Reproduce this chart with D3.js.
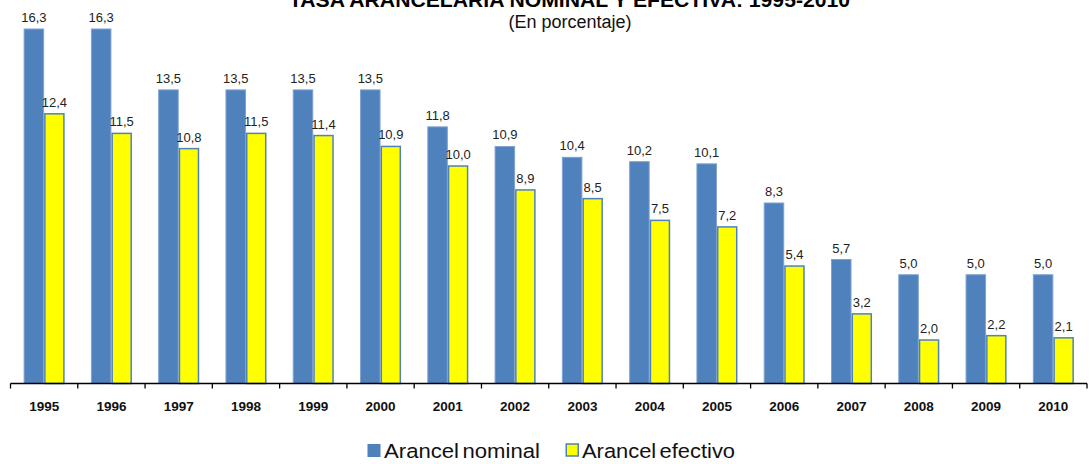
<!DOCTYPE html>
<html><head><meta charset="utf-8">
<script src="https://cdn.jsdelivr.net/npm/d3@7"></script>
<style>body{margin:0;background:#fff}svg{display:block}text{font-family:Arial,"Liberation Sans",sans-serif}</style>
</head><body>
<svg id="c" width="1090" height="464"></svg>
<script>
const years = ["1995","1996","1997","1998","1999","2000","2001","2002","2003","2004","2005","2006","2007","2008","2009","2010"];
const nominal = [16.3,16.3,13.5,13.5,13.5,13.5,11.8,10.9,10.4,10.2,10.1,8.3,5.7,5.0,5.0,5.0];
const efectivo = [12.4,11.5,10.8,11.5,11.4,10.9,10.0,8.9,8.5,7.5,7.2,5.4,3.2,2.0,2.2,2.1];
const seriesNames = ["Arancel nominal","Arancel efectivo"];
const title = "TASA ARANCELARIA NOMINAL Y EFECTIVA: 1995-2010";
const subtitle = "(En porcentaje)";

const svg = d3.select("#c");
const base = 383.5;
const pin = 0.39;
const x0 = d3.scaleBand().domain(years).range([10.5,1087]).paddingInner(pin).paddingOuter(pin/2);
const x1 = d3.scaleBand().domain([0,1]).range([0,x0.bandwidth()]);
const y = d3.scaleLinear().domain([0,16.3]).range([base,29]);
const fmt = v => d3.format(".1f")(v).replace(".",",");

const data = years.map((yr,i)=>({yr, vals:[nominal[i],efectivo[i]]}));
const fills = ["#4F81BD","#FFFF00"];
const strokes = ["#7FA3D1","#4F81BD"];
const sw = [1,1.5];

const g = svg.append("g").selectAll("g").data(data).join("g")
  .attr("transform", d=>`translate(${x0(d.yr)},0)`);
g.selectAll("rect").data(d=>d.vals.map((v,k)=>({v,k}))).join("rect")
  .attr("x", d=>x1(d.k)+ (d.k===1?0.75:0.5))
  .attr("width", d=>x1.bandwidth()-(d.k===1?1.5:1))
  .attr("y", d=>y(d.v))
  .attr("height", d=>base-y(d.v))
  .attr("fill", d=>fills[d.k]).attr("stroke", d=>strokes[d.k]).attr("stroke-width", d=>sw[d.k]);
g.selectAll("text").data(d=>d.vals.map((v,k)=>({v,k}))).join("text")
  .attr("x", d=>x1(d.k)+x1.bandwidth()/2)
  .attr("y", d=>y(d.v)-7)
  .attr("text-anchor","middle").attr("font-size","13px").attr("fill","#222")
  .text(d=>fmt(d.v));

// axis
const axis = d3.axisBottom(x0).tickSize(0).tickPadding(0);
const ax = svg.append("g").attr("transform",`translate(0,${base})`).call(axis);
ax.select(".domain").remove();
ax.selectAll("text").attr("y",27).attr("dy",null).attr("font-size","13.5px").attr("font-weight","bold")
  .attr("font-family","Arial, 'Liberation Sans', sans-serif").attr("fill","#111");
const step = x0.step();
const bounds = years.map(yr=>x0(yr)-step*pin/2).concat([x0(years[years.length-1])-step*pin/2+step]);
svg.append("line").attr("x1",bounds[0]).attr("x2",bounds[bounds.length-1]).attr("y1",base).attr("y2",base)
  .attr("stroke","#000").attr("stroke-width",1.5);
svg.selectAll(".tk").data(bounds).join("line").attr("class","tk")
  .attr("x1",d=>d).attr("x2",d=>d).attr("y1",base).attr("y2",base+5).attr("stroke","#000").attr("stroke-width",1.3);

// title
svg.append("text").attr("x",289).attr("y",7).attr("font-size","21px").attr("font-weight","bold")
  .attr("textLength",561).attr("lengthAdjust","spacingAndGlyphs").text(title);
svg.append("text").attr("x",570).attr("y",28).attr("text-anchor","middle").attr("font-size","18px").attr("fill","#111").text(subtitle);

// legend
const lx = [367.5,565.5];
const tl = [156,153];
const leg = svg.append("g").selectAll("g").data(seriesNames).join("g");
leg.append("rect").attr("x",(d,i)=>lx[i]+(i?0.75:0)).attr("y",443.5+0.5).attr("width",(d,i)=>i?12:13).attr("height",(d,i)=>i?12:13)
  .attr("fill",(d,i)=>fills[i]).attr("stroke",(d,i)=>i?"#4F81BD":"none").attr("stroke-width",1.5);
leg.append("text").attr("x",(d,i)=>lx[i]+16.5).attr("y",457.5).attr("font-size","20.5px").attr("word-spacing","-2.5px")
  .attr("textLength",(d,i)=>tl[i]).attr("lengthAdjust","spacingAndGlyphs").attr("fill","#111").text(d=>d);
</script>
</body></html>
